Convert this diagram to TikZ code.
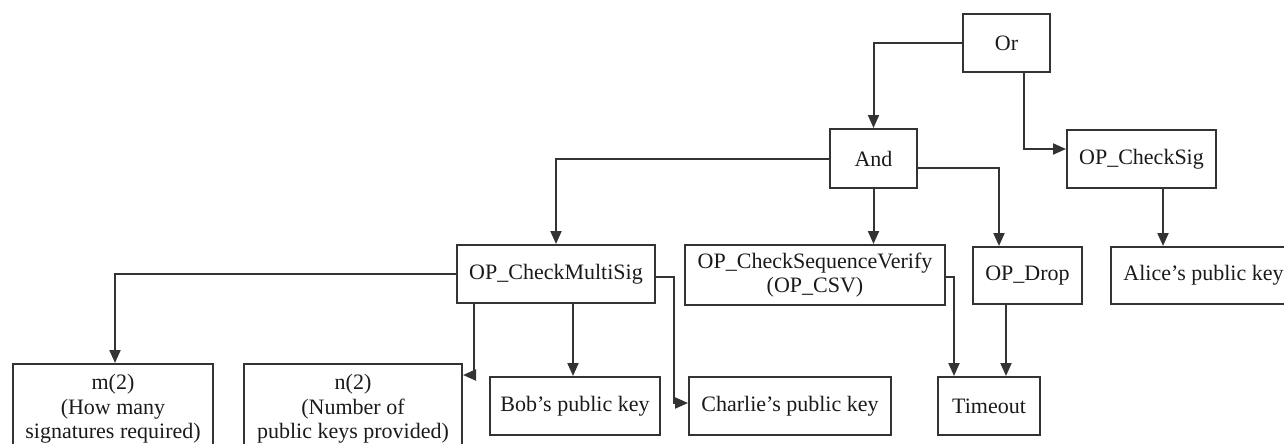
\documentclass[tikz,border=0pt]{standalone}
\usepackage{fontspec}
\setmainfont{Liberation Serif}
\usetikzlibrary{arrows.meta}
\definecolor{inkline}{HTML}{333333}
\definecolor{inktext}{HTML}{1A1A1A}
\begin{document}
\begin{tikzpicture}[x=1pt,y=-1pt,
  box/.style={draw=inkline, line width=2pt, rectangle, inner sep=0pt,
    text=inktext, align=center, font=\fontsize{22}{24.5}\selectfont},
  arr/.style={draw=inkline, line width=2pt,
    -{Triangle[length=13pt,width=11pt]}}]
\useasboundingbox (0,0) rectangle (1284,444);
\clip (0,0) rectangle (1284,444);

% script tree
\node[box, minimum width=87pt,  minimum height=58pt] (or)      at (1006.5,43)  {Or};
\node[box, minimum width=87pt,  minimum height=59pt] (and)     at (873.5,158.5) {And};
\node[box, minimum width=149pt, minimum height=58pt] (chk)     at (1141.5,159) {OP\_CheckSig};
\node[box, minimum width=198pt, minimum height=58pt] (cms)     at (556,274)    {OP\_CheckMultiSig};
\node[box, minimum width=260pt, minimum height=60pt] (csv)     at (815,275)    {OP\_CheckSequenceVerify\\(OP\_CSV)};
\node[box, minimum width=109pt, minimum height=57pt] (drop)    at (1027.5,275.5) {OP\_Drop};
\node[box, minimum width=185pt, minimum height=57pt] (alice)   at (1203.5,275.5) {Alice's public key};
\node[box, minimum width=170pt, minimum height=58pt] (bob)     at (575,406)    {Bob's public key};
\node[box, minimum width=202pt, minimum height=58pt] (charlie) at (790,406)    {Charlie's public key};
\node[box, minimum width=102pt, minimum height=58pt] (timeout) at (989,406)    {Timeout};
\node[box, minimum width=200pt, minimum height=90pt] (m)       at (113,409)    {m(2)\\(How many\\signatures required)};
\node[box, minimum width=218pt, minimum height=90pt] (n)       at (353,409)    {n(2)\\(Number of\\public keys provided)};

% connectors
\draw[arr] (or.west) -| (and.north);
\draw[arr] ([xshift=17.5pt]or.south) |- ([yshift=10pt]chk.west);
\draw[arr] (and.west) -| (cms.north);
\draw[arr] (and.south) -- (and.south |- csv.north);
\draw[arr] ([yshift=-9.5pt]and.east) -| ([xshift=-28.5pt]drop.north);
\draw[arr] ([xshift=21.5pt]chk.south) -- ([xshift=21.5pt]chk.south |- alice.north);
\draw[arr] (cms.west) -| ([xshift=2pt]m.north);
\draw[arr] ([xshift=-82pt]cms.south) |- ([yshift=-12pt]n.north east);
\draw[arr] ([xshift=17pt]cms.south) -- ([xshift=17pt]cms.south |- bob.north);
\draw[arr] ([yshift=-3pt]cms.east) -- ++(18,0) |- ([yshift=3pt]charlie.west);
\draw[arr] ([yshift=-2pt]csv.east) -| ([xshift=-35pt]timeout.north);
\draw[arr] ([xshift=-21.5pt]drop.south) -- ([xshift=-21.5pt]drop.south |- timeout.north);
\end{tikzpicture}
\end{document}
